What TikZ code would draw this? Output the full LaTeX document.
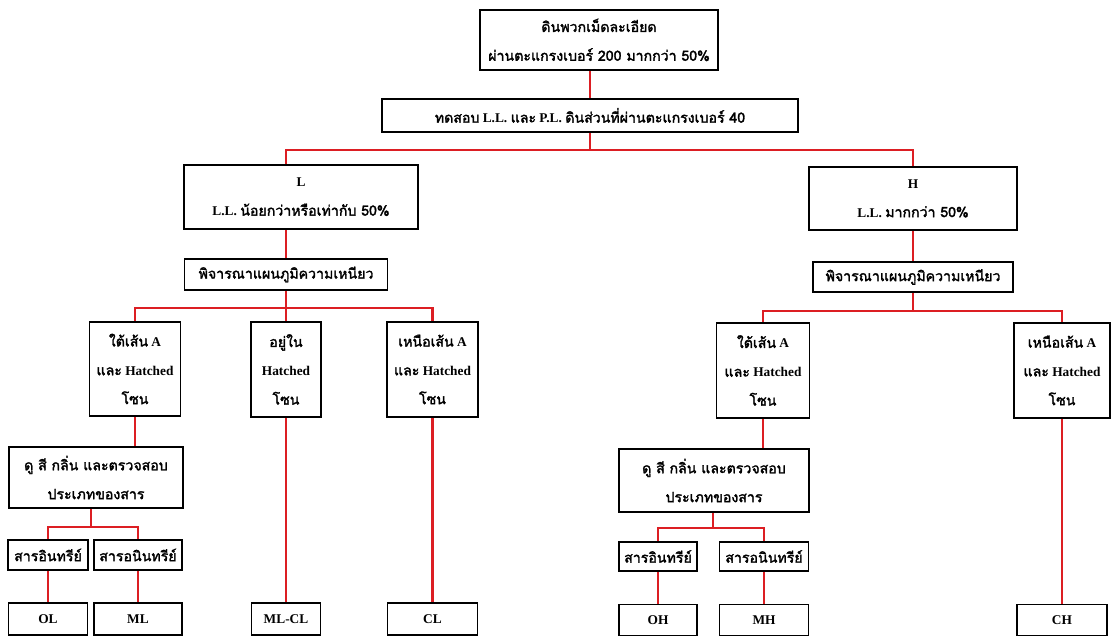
\documentclass[tikz,border=0pt]{standalone}
\usepackage{fontspec}
\setmainfont{Liberation Serif}
\newfontfamily\thaifont[Script=Thai,Scale=1.06,AutoFakeBold=2]{Loma}
\usepackage{tikz}
\usetikzlibrary{positioning}
\usetikzlibrary{calc}
\definecolor{linkred}{HTML}{DC1E23}
\newcommand{\tha}[1]{{\thaifont #1}}

\begin{document}
\begin{tikzpicture}[
  x=0.025cm, y=-0.025cm,
  link/.style ={
    draw=linkred, line width=1.6pt
  },
  box/.style 2 args={
    rectangle,
    draw=black,
    line width=1.4pt,
    fill=white,
    align=center,
    inner sep=0pt,
    minimum width=#1*0.025cm,
    minimum height=#2*0.025cm,
    font=\bfseries\fontsize{9.5}{20.5}\selectfont},
]

  \useasboundingbox (0,0) rectangle (1111,637);

  % top of the chart
  \node[box={238}{60}] (root) at (599,40)
    {\tha{ดินพวกเม็ดละเอียด}\\\tha{ผ่านตะแกรงเบอร์ 200 มากกว่า 50\%}};
  \node[box={416}{33}] (test) at (590,115.5)
    {\tha{ทดสอบ} L.L. \tha{และ} P.L. \tha{ดินส่วนที่ผ่านตะแกรงเบอร์ 40}};

  % L branch
  \node[box={234}{64}] (lbox) at (301,197)
    {L\\L.L. \tha{น้อยกว่าหรือเท่ากับ 50\%}};
  \node[box={203}{31}] (lcons) at (286,274.5)
    {\tha{พิจารณาแผนภูมิความเหนียว}};

  \node[box={91}{94}] (lbelow) at (135,369)
    {\tha{ใต้เส้น} A\\\tha{และ} Hatched\\\tha{โซน}};
  \node[box={70}{95}] (linside) at (286,369.5)
    {\tha{อยู่ใน}\\Hatched\\\tha{โซน}};
  \node[box={91}{95}] (labove) at (432.5,369.5)
    {\tha{เหนือเส้น} A\\\tha{และ} Hatched\\\tha{โซน}};

  \node[box={174}{61}] (lcheck) at (96,477.5)
    {\tha{ดู สี กลิ่น และตรวจสอบ}\\\tha{ประเภทของสาร}};
  \node[box={80}{30}] (lorg) at (48,555) {\tha{สารอินทรีย์}};
  \node[box={88}{30}] (linorg) at (138,555) {\tha{สารอนินทรีย์}};

  \node[box={79}{32}] (ol) at (48,619) {OL};
  \node[box={88}{32}] (ml) at (138,619) {ML};
  \node[box={69}{32}] (mlcl) at (286,619) {ML-CL};
  \node[box={90}{32}] (cl) at (432.5,619) {CL};

  % H branch
  \node[box={208}{63}] (hbox) at (913,198.5)
    {H\\L.L. \tha{มากกว่า 50\%}};
  \node[box={200}{30}] (hcons) at (913,277)
    {\tha{พิจารณาแผนภูมิความเหนียว}};

  \node[box={93}{95}] (hbelow) at (763,370.5)
    {\tha{ใต้เส้น} A\\\tha{และ} Hatched\\\tha{โซน}};
  \node[box={96}{95}] (habove) at (1062,370.5)
    {\tha{เหนือเส้น} A\\\tha{และ} Hatched\\\tha{โซน}};

  \node[box={190}{63}] (hcheck) at (714,480.5)
    {\tha{ดู สี กลิ่น และตรวจสอบ}\\\tha{ประเภทของสาร}};
  \node[box={78}{29}] (horg) at (658,556.5) {\tha{สารอินทรีย์}};
  \node[box={89}{29}] (hinorg) at (764,556.5) {\tha{สารอนินทรีย์}};

  \node[box={78}{31}] (oh) at (658,620) {OH};
  \node[box={89}{31}] (mh) at (764,620) {MH};
  \node[box={90}{31}] (ch) at (1062,620) {CH};

  % junctions
  \coordinate (jtop) at (590,150);
  \coordinate (jl) at (286,308);
  \coordinate (jh) at (913,311);
  \coordinate (jlcheck) at (91,527);
  \coordinate (jhcheck) at (713,528);

  % connectors
  \draw[link] (test.north) -- (test.north |- root.south);
  \draw[link] (test.south) -- (jtop) -| (lcons.north |- lbox.north);
  \draw[link] (jtop) -| (hbox.north);

  \draw[link] (lcons.north) -- (lcons.north |- lbox.south);
  \draw[link] (lcons.south) -- (jl) -| (lbelow.north);
  \draw[link] (jl) -- (linside.north);
  \draw[link] (jl) -| (labove.north);
  \draw[link] (lbelow.south) -- (lbelow.south |- lcheck.north);
  \draw[link] (jlcheck |- lcheck.south) -- (jlcheck) -| (lorg.north);
  \draw[link] (jlcheck) -| (linorg.north);
  \draw[link] (lorg) -- (ol);
  \draw[link] (linorg) -- (ml);
  \draw[link] (linside) -- (mlcl);
  \draw[link] (labove) -- (cl);

  \draw[link] (hbox) -- (hcons);
  \draw[link] (hcons.south) -- (jh) -| (hbelow.north);
  \draw[link] (jh) -| (habove.north);
  \draw[link] (hbelow.south) -- (hbelow.south |- hcheck.north);
  \draw[link] (jhcheck |- hcheck.south) -- (jhcheck) -| (horg.north);
  \draw[link] (jhcheck) -| (hinorg.north);
  \draw[link] (horg) -- (oh);
  \draw[link] (hinorg) -- (mh);
  \draw[link] (habove) -- (ch);

\end{tikzpicture}
\end{document}
